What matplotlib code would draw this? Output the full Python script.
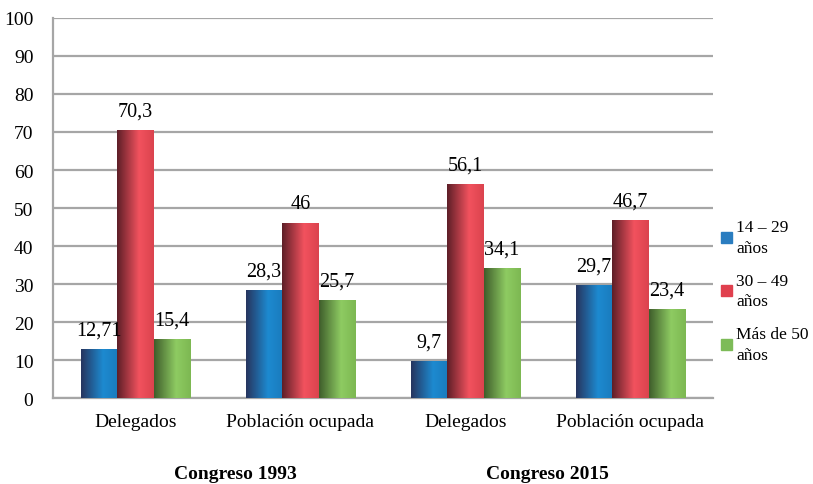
import numpy as np
import matplotlib.pyplot as plt
from matplotlib.colors import to_rgb
from matplotlib.patches import Patch

# --- Daten ---
categorias = ['Delegados', 'Población ocupada', 'Delegados', 'Población ocupada']
grupos = ['Congreso 1993', 'Congreso 2015']
series = ['14 – 29\naños', '30 – 49\naños', 'Más de 50\naños']
edad_14_29 = [12.71, 28.3, 9.7, 29.7]
edad_30_49 = [70.3, 46, 56.1, 46.7]
edad_50_mas = [15.4, 25.7, 34.1, 23.4]
etiquetas = [
    ['12,71', '28,3', '9,7', '29,7'],
    ['70,3', '46', '56,1', '46,7'],
    ['15,4', '25,7', '34,1', '23,4'],
]

# (dunkel links, hell Mitte, rechts) fuer den Farbverlauf
verlauf = [
    ('#27355f', '#1d8ad0', '#1a7bbd'),
    ('#5e1f28', '#f2525e', '#db434e'),
    ('#3f5e2c', '#8ecb62', '#7db852'),
]
legend_farben = ['#2a7dc0', '#e0404e', '#7dbb58']

plt.rcParams['font.family'] = ['Liberation Serif', 'DejaVu Serif']

fig = plt.figure(figsize=(8.13, 4.85), dpi=100)
ax = fig.add_axes([0.065, 0.177, 0.812, 0.784])

x = np.arange(len(categorias))
width = 0.22
werte = [edad_14_29, edad_30_49, edad_50_mas]


def gradient(c_left, c_mid, c_right, n=64):
    t = np.linspace(0, 1, n)
    a, b, c = (np.array(to_rgb(k)) for k in (c_left, c_mid, c_right))
    out = np.zeros((1, n, 3))
    for i, v in enumerate(t):
        if v < 0.6:
            f = v / 0.6
            out[0, i] = a * (1 - f) + b * f
        else:
            f = (v - 0.6) / 0.4
            out[0, i] = b * (1 - f) + c * f
    return out


for s, vals in enumerate(werte):
    pos = x + (s - 1) * width
    bars = ax.bar(pos, vals, width, color=legend_farben[s], zorder=2)
    img = gradient(*verlauf[s])
    for b, lab in zip(bars, etiquetas[s]):
        x0 = b.get_x()
        h = b.get_height()
        ax.imshow(img, extent=(x0, x0 + width, 0, h), aspect='auto', zorder=3,
                  interpolation='bilinear')
        ax.text(x0 + width / 2, h + 2.6, lab, ha='center', va='bottom', fontsize=14.5, zorder=4)

ax.set_xlim(-0.5, len(categorias) - 0.5)
ax.set_ylim(0, 100)
ax.set_yticks(np.arange(0, 101, 10))
ax.set_xticks(x)
ax.set_xticklabels(categorias)
ax.tick_params(axis='both', length=0, labelsize=14)
ax.tick_params(axis='x', pad=11)
ax.tick_params(axis='y', pad=14)
ax.grid(axis='y', color='#a6a6a6', linewidth=1.6, zorder=0)
ax.set_axisbelow(True)
for side in ['top', 'right']:
    ax.spines[side].set_visible(False)
for side in ['left', 'bottom']:
    ax.spines[side].set_color('#a6a6a6')
    ax.spines[side].set_linewidth(1.6)

fig.text(235 / 813, 1 - 475 / 485, grupos[0], ha='center', va='center',
         fontsize=14, fontweight='bold')
fig.text(547 / 813, 1 - 475 / 485, grupos[1], ha='center', va='center',
         fontsize=14, fontweight='bold')

handles = [Patch(color=c) for c in legend_farben]
leg = fig.legend(handles, series, loc='center left', bbox_to_anchor=(0.887, 0.398),
                 frameon=False, fontsize=12.5, handlelength=0.6, handleheight=0.6,
                 handletextpad=0.25, labelspacing=0.95, borderpad=0, borderaxespad=0)
for t in leg.get_texts():
    t.set_linespacing(1.4)

fig.savefig('out.png', dpi=100)
